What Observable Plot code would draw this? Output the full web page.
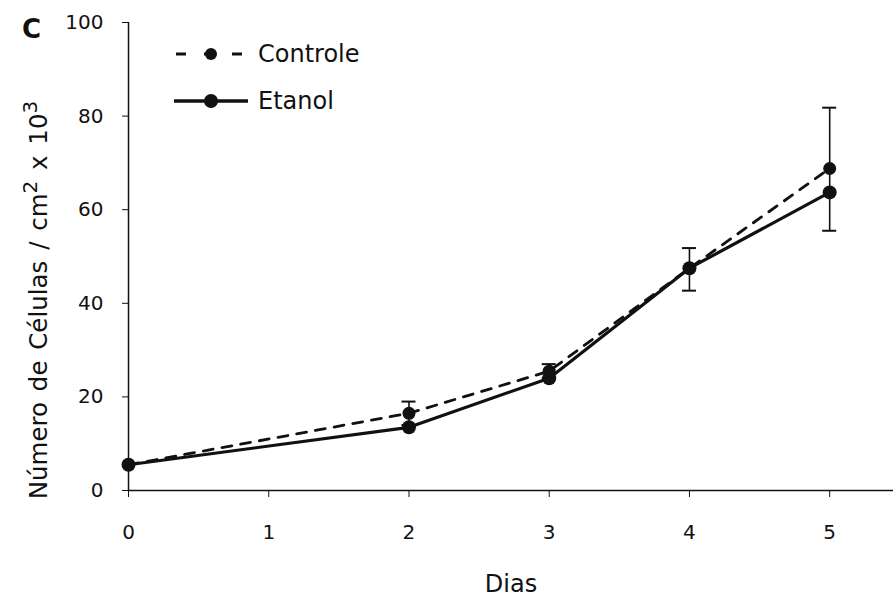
<!DOCTYPE html>
<html>
<head>
<meta charset="utf-8">
<script src="https://cdn.jsdelivr.net/npm/d3@7"></script>
<script src="https://cdn.jsdelivr.net/npm/@observablehq/plot@0.6"></script>
<style>
  html, body { margin: 0; padding: 0; background: #fff; }
  #wrap { position: relative; width: 893px; height: 600px; font-family: "DejaVu Sans", Verdana, sans-serif; color: #111; }
  #panel { position: absolute; left: 22px; top: 14px; font-weight: bold; font-size: 26px; }
  #legend { position: absolute; left: 172px; top: 30px; font-size: 24px; }
  #legend .row { display: flex; align-items: center; height: 47px; }
  #legend svg { margin-right: 8px; }
  #ylabel { position: absolute; left: 38px; top: 300px; transform: translate(-50%, -50%) rotate(-90deg); white-space: nowrap; font-size: 24.5px; word-spacing: 3px; }
  #ylabel sup { font-size: 20px; vertical-align: 0.5em; line-height: 0; }
</style>
</head>
<body>
<div id="wrap">
  <div id="chart"></div>
  <div id="panel">C</div>
  <div id="legend"></div>
  <div id="ylabel"></div>
</div>
<script>
const days = [0, 2, 3, 4, 5];
const controle = [5.5, 16.5, 25.5, 47.5, 68.8];
const etanol = [5.5, 13.5, 24, 47.5, 63.7];
const errLow = [5.5, 14, 24, 42.7, 55.5];
const errHigh = [5.5, 19, 27, 51.8, 81.8];
const xTicks = [0, 1, 2, 3, 4, 5];
const yTicks = [0, 20, 40, 60, 80, 100];
const seriesNames = ["Controle", "Etanol"];
const xLabel = "Dias";
const yLabelParts = ["Número de Células / cm", "2", " x 10", "3"];

const ctrl = days.map((d, i) => ({day: d, v: controle[i], lo: errLow[i], hi: errHigh[i]}));
const eta = days.map((d, i) => ({day: d, v: etanol[i]}));
const bars = ctrl.filter(d => d.hi > d.lo);

const chart = Plot.plot({
  width: 893,
  height: 600,
  marginLeft: 128,
  marginRight: 0,
  marginTop: 22,
  marginBottom: 110,
  style: {fontFamily: "DejaVu Sans, Verdana, sans-serif", fontSize: "20px", color: "#111"},
  x: {domain: [0, 5.455], label: null},
  y: {domain: [0, 100], label: null},
  marks: [
    Plot.axisX({ticks: xTicks, tickSize: 7, tickPadding: 27, tickFormat: d => String(d), label: null, fontSize: 20}),
    Plot.axisY({ticks: yTicks, tickSize: 6, tickPadding: 19, label: null, fontSize: 20}),
    Plot.ruleY([0], {stroke: "#111", strokeWidth: 1.5}),
    Plot.ruleX([0], {stroke: "#111", strokeWidth: 1.5}),
    Plot.line(ctrl, {x: "day", y: "v", stroke: "#111", strokeWidth: 2.8, strokeDasharray: "10,9"}),
    Plot.line(eta, {x: "day", y: "v", stroke: "#111", strokeWidth: 3.2}),
    Plot.ruleX(bars, {x: "day", y1: "lo", y2: "hi", stroke: "#111", strokeWidth: 1.6}),
    Plot.ruleY(bars, {y: "hi", x1: d => d.day - 0.05, x2: d => d.day + 0.05, stroke: "#111", strokeWidth: 2}),
    Plot.ruleY(bars, {y: "lo", x1: d => d.day - 0.05, x2: d => d.day + 0.05, stroke: "#111", strokeWidth: 2}),
    Plot.dot(ctrl, {x: "day", y: "v", r: 6.5, fill: "#111"}),
    Plot.dot(eta, {x: "day", y: "v", r: 7, fill: "#111"}),
    Plot.text([xLabel], {frameAnchor: "bottom", dy: 101, fontSize: 24, fill: "#111"})
  ]
});
document.getElementById("chart").appendChild(chart);

const yl = document.getElementById("ylabel");
yl.innerHTML = `${yLabelParts[0]}<sup>${yLabelParts[1]}</sup>${yLabelParts[2]}<sup>${yLabelParts[3]}</sup>`;

const legend = document.getElementById("legend");
seriesNames.forEach((name, i) => {
  const row = document.createElement("div");
  row.className = "row";
  const dashed = i === 0;
  row.innerHTML = `<svg width="78" height="20">
    <line x1="2" y1="10" x2="76" y2="10" stroke="#111" stroke-width="${dashed ? 3 : 3.5}" ${dashed ? 'stroke-dasharray="10,18" stroke-dashoffset="-2"' : ''}/>
    <circle cx="39" cy="10" r="${dashed ? 6 : 7}" fill="#111"/>
  </svg><span>${name}</span>`;
  legend.appendChild(row);
});
</script>
</body>
</html>
